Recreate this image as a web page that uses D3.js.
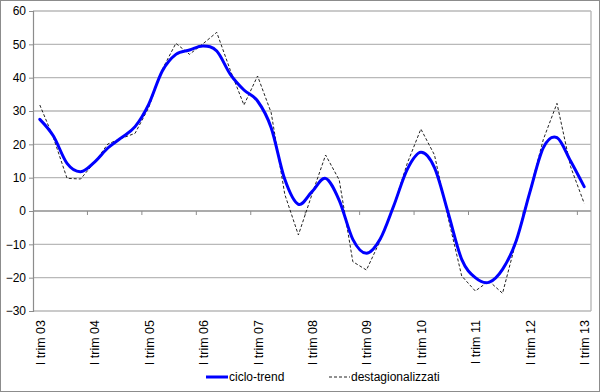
<!DOCTYPE html>
<html>
<head>
<meta charset="utf-8">
<script src="https://cdn.jsdelivr.net/npm/d3@7"></script>
<style>
  html, body { margin: 0; padding: 0; background: #fff; }
  svg { display: block; font-family: "Liberation Sans", Arial, sans-serif; }
</style>
</head>
<body>
<svg id="chart" width="600" height="392"></svg>
<script>
// ---- data ----
const years = ["03","04","05","06","07","08","09","10","11","12","13"];
const quarterNames = ["I","II","III","IV"];
const categories = [];
years.forEach((y, yi) => {
  quarterNames.forEach(q => {
    if (yi < years.length - 1 || q === "I") categories.push(q + " trim " + y);
  });
});
const cicloTrend = [
  27.5, 22.5, 14.3, 11.8, 14.6, 18.9, 22.0, 25.3, 32.0, 42.0,
  47.0, 48.3, 49.5, 48.0, 41.0, 36.3, 33.0, 25.0, 9.5, 2.0,
  5.8, 9.8, 3.2, -8.5, -12.7, -8.5, 1.5, 12.5, 17.6, 13.0,
  -0.5, -14.5, -20.0, -21.4, -17.5, -9.0, 5.5, 19.0, 22.0, 15.0, 7.3
];
const destagionalizzati = [
  31.8, 22.0, 9.8, 9.6, 14.5, 20.1, 21.8, 23.3, 31.0, 42.5,
  50.3, 47.0, 50.2, 53.6, 42.2, 31.8, 40.5, 29.5, 5.0, -7.2,
  5.0, 16.8, 9.3, -15.2, -17.7, -9.0, 1.5, 14.3, 24.6, 16.8,
  -2.0, -19.5, -24.0, -21.0, -24.7, -9.0, 6.0, 21.5, 32.3, 13.3, 2.3
];
const yTicks = [-30, -20, -10, 0, 10, 20, 30, 40, 50, 60];
const seriesNames = ["ciclo-trend", "destagionalizzati"];

// ---- layout ----
const svg = d3.select("#chart");
const W = 600, H = 392;
const plot = { left: 33, right: 591, top: 11, bottom: 311 };

svg.append("rect")
  .attr("x", 0.5).attr("y", 0.5).attr("width", W - 1).attr("height", H - 1)
  .attr("fill", "#fff").attr("stroke", "#8c8c8c").attr("stroke-width", 1);

const x = d3.scalePoint().domain(categories).range([plot.left, plot.right]).padding(0.5);
const step = x.step();
const y = d3.scaleLinear().domain([-30, 60]).range([plot.bottom, plot.top]);

// gridlines
svg.append("g").selectAll("line").data(yTicks).join("line")
  .attr("x1", plot.left).attr("x2", plot.right)
  .attr("y1", d => y(d)).attr("y2", d => y(d))
  .attr("stroke", "#b9b9b9").attr("stroke-width", 1.4);

// plot right border
svg.append("line")
  .attr("x1", plot.right).attr("x2", plot.right)
  .attr("y1", plot.top).attr("y2", plot.bottom)
  .attr("stroke", "#b9b9b9").attr("stroke-width", 1.4);

// y axis
const yAxis = d3.axisLeft(y).tickValues(yTicks).tickSize(4).tickPadding(3);
const gy = svg.append("g").attr("transform", `translate(${plot.left},0)`).call(yAxis);
gy.select(".domain").attr("stroke", "#8c8c8c").attr("stroke-width", 1.2);
gy.selectAll(".tick line").attr("stroke", "#8c8c8c");
gy.selectAll(".tick text").attr("font-size", 12).attr("fill", "#000")
  .attr("font-family", "Liberation Sans, Arial, sans-serif");

// x axis at zero
const boundaryIdx = d3.range(4, categories.length, 4);
const gx = svg.append("g");
gx.append("line")
  .attr("x1", plot.left).attr("x2", plot.right)
  .attr("y1", y(0)).attr("y2", y(0))
  .attr("stroke", "#8c8c8c").attr("stroke-width", 1.2);
gx.selectAll("line.tk").data(boundaryIdx).join("line").attr("class", "tk")
  .attr("x1", i => x(categories[i]) - step / 2).attr("x2", i => x(categories[i]) - step / 2)
  .attr("y1", y(0)).attr("y2", y(0) + 4)
  .attr("stroke", "#8c8c8c");

// category labels (rotated) below plot
const labelCats = categories.filter(c => c.startsWith("I trim"));
svg.append("g").selectAll("text").data(labelCats).join("text")
  .attr("transform", d => `translate(${x(d) + 5},${plot.bottom + 9}) rotate(-90)`)
  .attr("text-anchor", "end")
  .attr("font-size", 12.5)
  .attr("fill", "#000")
  .text(d => d);

// lines
const curve = d3.curveCardinal.tension(0);
const lineGen = d3.line()
  .x((d, i) => x(categories[i]))
  .y(d => y(d));

svg.append("path").datum(destagionalizzati)
  .attr("d", lineGen.curve(d3.curveLinear))
  .attr("fill", "none").attr("stroke", "#222").attr("stroke-width", 1)
  .attr("stroke-dasharray", "3,2");

svg.append("path").datum(cicloTrend)
  .attr("d", lineGen.curve(curve))
  .attr("fill", "none").attr("stroke", "#0000ff").attr("stroke-width", 3)
  .attr("stroke-linejoin", "round").attr("stroke-linecap", "round");

// legend
const legY = 377;
const leg = svg.append("g");
leg.append("line").attr("x1", 206).attr("x2", 228).attr("y1", legY).attr("y2", legY)
  .attr("stroke", "#0000ff").attr("stroke-width", 3);
leg.append("text").attr("x", 229).attr("y", legY + 4).attr("font-size", 12).text(seriesNames[0]);
leg.append("line").attr("x1", 329).attr("x2", 350).attr("y1", legY).attr("y2", legY)
  .attr("stroke", "#222").attr("stroke-width", 1).attr("stroke-dasharray", "3,2");
leg.append("text").attr("x", 351).attr("y", legY + 4).attr("font-size", 12).text(seriesNames[1]);
</script>
</body>
</html>
